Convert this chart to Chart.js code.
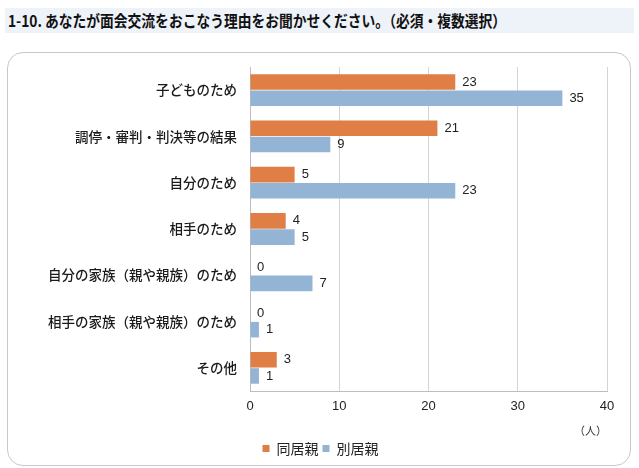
<!DOCTYPE html>
<html>
<head>
<meta charset="utf-8">
<script src="https://cdn.jsdelivr.net/npm/chart.js@4/dist/chart.umd.min.js"></script>
<style>
    body { margin: 0; background: #fff; width: 639px; height: 468px; position: relative; overflow: hidden; }
    .title {
        position: absolute; left: 5px; top: 8px; width: 629px; height: 25px;
        background: #eef2f9;
    }
    .title span {
        position: absolute; left: 3px; top: 0; white-space: nowrap;
        font-family: 'Noto Sans CJK JP', sans-serif; font-weight: bold;
        font-size: 16px; line-height: 25px; color: #111;
        transform: scaleX(0.86); transform-origin: left center;
    }
    .box {
        position: absolute; left: 7px; top: 52px; width: 624px; height: 414px;
        border: 1.5px solid #c8c8c8; border-radius: 16px; box-sizing: border-box;
    }
    #barChart { position: absolute; left: 0; top: 0; }
</style>
</head>
<body>
<div class="title"><span>1-10. あなたが面会交流をおこなう理由をお聞かせください。（必須・複数選択）</span></div>
<div class="box"></div>
<canvas id="barChart" width="639" height="468"></canvas>
<script>
// Dados do gráfico
const categorias = [
    '子どものため',
    '調停・審判・判決等の結果',
    '自分のため',
    '相手のため',
    '自分の家族（親や親族）のため',
    '相手の家族（親や親族）のため',
    'その他'
];
const doukyoOya = [23, 21, 5, 4, 0, 0, 3];   // 同居親
const bekkyoOya = [35, 9, 23, 5, 7, 1, 1];   // 別居親
const eixoMin = 0;
const eixoMax = 40;
const eixoPasso = 10;

Chart.defaults.font.family = "'Liberation Sans', 'Noto Sans CJK JP', sans-serif";
Chart.defaults.color = '#333';

// Rótulos de valor ao lado das barras
const valueLabels = {
    id: 'valueLabels',
    afterDatasetsDraw(chart) {
        const ctx = chart.ctx;
        ctx.save();
        ctx.font = "13px 'Liberation Sans', sans-serif";
        ctx.fillStyle = '#222';
        ctx.textAlign = 'left';
        ctx.textBaseline = 'middle';
        chart.data.datasets.forEach((ds, i) => {
            chart.getDatasetMeta(i).data.forEach((bar, j) => {
                ctx.fillText(ds.data[j], bar.x + 7, bar.y);
            });
        });
        ctx.restore();
    }
};

const barConfig = {
    type: 'bar',
    data: {
        labels: categorias,
        datasets: [
            { label: '同居親', data: doukyoOya, backgroundColor: '#e07f45' },
            { label: '別居親', data: bekkyoOya, backgroundColor: '#94b4d6' }
        ]
    },
    options: {
        indexAxis: 'y',
        responsive: false,
        animation: false,
        categoryPercentage: 0.7,
        barPercentage: 0.96,
        layout: { padding: { left: 34, top: 67, right: 32, bottom: 2.5 } },
        plugins: {
            legend: {
                position: 'bottom',
                labels: {
                    boxWidth: 7,
                    boxHeight: 7,
                    padding: 4,
                    color: '#222',
                    font: { size: 14, family: "'Noto Sans CJK JP', sans-serif" }
                }
            },
            tooltip: { enabled: false }
        },
        scales: {
            x: {
                min: eixoMin,
                max: eixoMax,
                ticks: { stepSize: eixoPasso, padding: 8, color: '#222', font: { size: 13 } },
                grid: { color: '#d4d4d4', drawTicks: false },
                border: { color: '#bdbdbd' },
                title: {
                    display: true,
                    text: '（人）',
                    align: 'end',
                    color: '#333',
                    padding: 0,
                    font: { size: 11, family: "'Noto Sans CJK JP', sans-serif" }
                },
                afterFit: function(scale) { scale.height = 46.5; }
            },
            y: {
                ticks: { padding: 5, color: '#1a1a1a', font: { size: 13.5, weight: 500, family: "'Noto Sans CJK JP', sans-serif" } },
                grid: { display: false },
                border: { color: '#bdbdbd' },
                afterFit: function(scale) { scale.width = 216; }
            }
        }
    },
    plugins: [valueLabels]
};

const barCtx = document.getElementById('barChart');
const barChart = new Chart(barCtx, barConfig);
</script>
</body>
</html>
